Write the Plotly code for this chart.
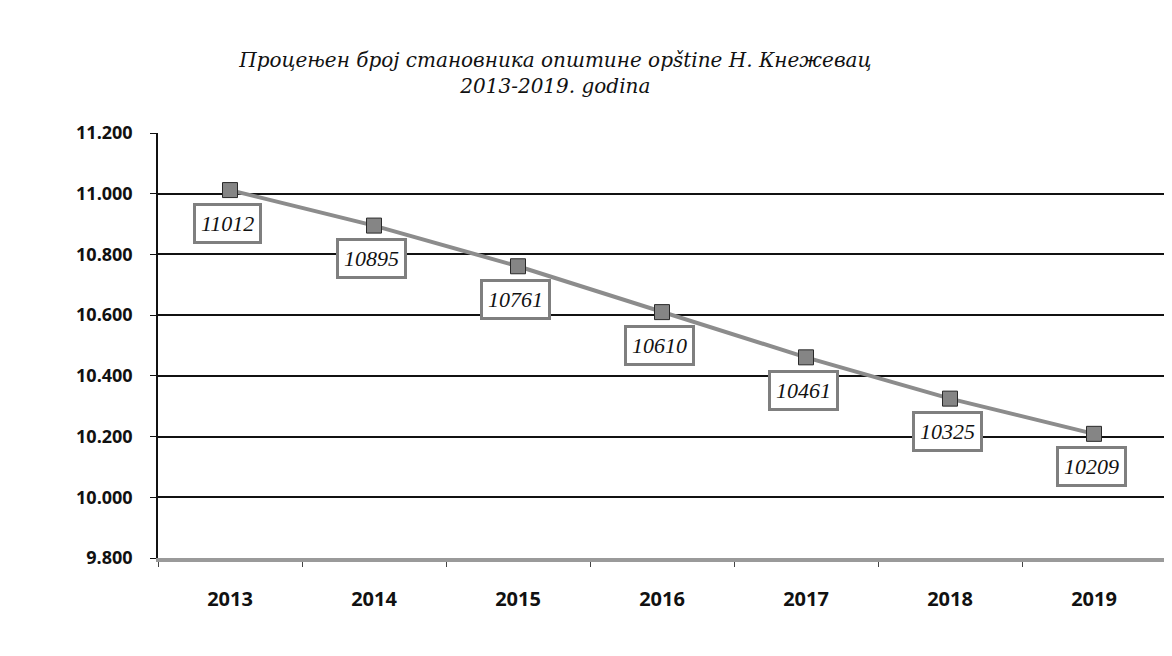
import plotly.graph_objects as go

years = ["2013", "2014", "2015", "2016", "2017", "2018", "2019"]
population = [11012, 10895, 10761, 10610, 10461, 10325, 10209]
y_ticks = [9800, 10000, 10200, 10400, 10600, 10800, 11000, 11200]

title_text = ("<i>Процењен број становника општине opštine Н. Кнежевац"
              "<br>2013-2019. godina</i>")

fig = go.Figure()

fig.add_trace(go.Scatter(
    x=years, y=population, mode="lines+markers",
    line=dict(color="#8c8c8c", width=4),
    marker=dict(symbol="square", size=15, color="#858585",
                line=dict(color="#2a2a2a", width=1)),
    showlegend=False, hoverinfo="skip",
))

for i, val in enumerate(population):
    fig.add_annotation(
        x=i, y=val, xref="x", yref="y", text="<i>%d</i>" % val, showarrow=False,
        xshift=-3, yshift=-33,
        font=dict(family="Liberation Serif", size=22, color="#111111"),
        bgcolor="white", bordercolor="#7f7f7f", borderwidth=3, borderpad=5,
    )

fig.update_layout(
    width=1172, height=656,
    paper_bgcolor="white", plot_bgcolor="white",
    margin=dict(l=150, r=14, t=125, b=106),
    separators=",.",
    title=dict(
        text=title_text, x=0.467, xanchor="center", y=0.91, yanchor="top",
        font=dict(family="DejaVu Serif", size=20, color="#111111"),
    ),
    xaxis=dict(
        type="category", range=[-0.5, 6.5],
        showgrid=False, showline=True, linecolor="#9a9a9a", linewidth=4,
        ticks="outside", ticklen=5, tickcolor="#444444", tickson="boundaries",
        tickfont=dict(family="Open Sans", size=20, color="#111111", weight="bold"),
        ticklabelstandoff=20,
    ),
    yaxis=dict(
        range=[9800, 11200], tickvals=y_ticks, tickformat=",d",
        showgrid=True, gridcolor="#111111", gridwidth=1.5,
        showline=True, linecolor="#111111", linewidth=1.5,
        ticks="outside", ticklen=6, tickcolor="#111111",
        tickfont=dict(family="Open Sans", size=18, color="#111111", weight="bold"),
        ticklabelstandoff=14,
        zeroline=False,
    ),
    shapes=[dict(type="line", xref="paper", yref="paper", x0=1.0, x1=1.0, y0=0, y1=1,
                 line=dict(color="#9a9a9a", width=3))],
)

fig.write_html("out.html")
